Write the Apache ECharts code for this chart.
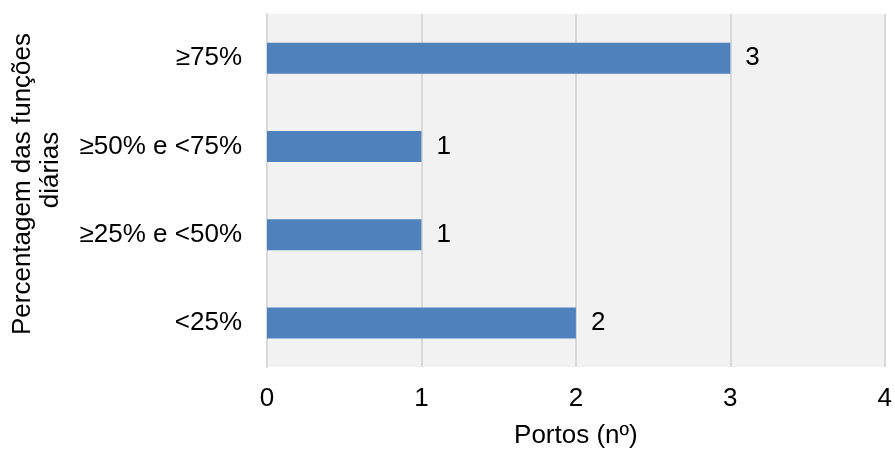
<!DOCTYPE html>
<html>
<head>
<meta charset="utf-8">
<script src="https://cdn.jsdelivr.net/npm/echarts@6/dist/echarts.min.js"></script>
<style>
  html, body { margin: 0; padding: 0; background: #fff; }
  #chart { width: 895px; height: 454px; }
</style>
</head>
<body>
<div id="chart"></div>
<script>
// Categories listed bottom to top, as the category axis draws them
const categories = ['<25%', '≥25% e <50%', '≥50% e <75%', '≥75%'];
const portCounts = [2, 1, 1, 3];
const xTicks = [0, 1, 2, 3, 4];

const font = '"Liberation Sans", Arial, sans-serif';
const chart = echarts.init(document.getElementById('chart'));

chart.setOption({
  backgroundColor: '#ffffff',
  animation: false,
  grid: {
    left: 267, right: 9, top: 14, bottom: 84,
    show: true, backgroundColor: '#f2f2f2', borderWidth: 0
  },
  xAxis: {
    type: 'value',
    min: xTicks[0], max: xTicks[xTicks.length - 1], interval: 1,
    name: 'Portos (nº)',
    nameLocation: 'middle', nameGap: 56,
    nameTextStyle: { fontFamily: font, fontSize: 26, color: '#000' },
    axisLine: { show: false },
    axisTick: { show: false },
    axisLabel: { fontFamily: font, fontSize: 26, color: '#000', margin: 19 },
    splitLine: { show: true, lineStyle: { color: '#d9d9d9', width: 2 } }
  },
  yAxis: {
    type: 'category',
    data: categories,
    axisLine: { show: true, lineStyle: { color: '#d9d9d9', width: 2 } },
    axisTick: { show: false },
    axisLabel: { fontFamily: font, fontSize: 26, color: '#000', margin: 25 }
  },
  graphic: [{
    type: 'text',
    x: 23, y: 184,
    rotation: Math.PI / 2,
    style: {
      text: 'Percentagem das funções',
      font: '26px ' + font,
      fill: '#000',
      align: 'center',
      verticalAlign: 'middle'
    }
  }, {
    type: 'text',
    x: 51, y: 170,
    rotation: Math.PI / 2,
    style: {
      text: 'diárias',
      font: '26px ' + font,
      fill: '#000',
      align: 'center',
      verticalAlign: 'middle'
    }
  }],
  series: [{
    type: 'bar',
    data: portCounts,
    barWidth: 31,
    itemStyle: { color: '#4f81bd' },
    label: {
      show: true, position: 'right', distance: 15,
      fontFamily: font, fontSize: 26, color: '#000'
    }
  }]
});
</script>
</body>
</html>
